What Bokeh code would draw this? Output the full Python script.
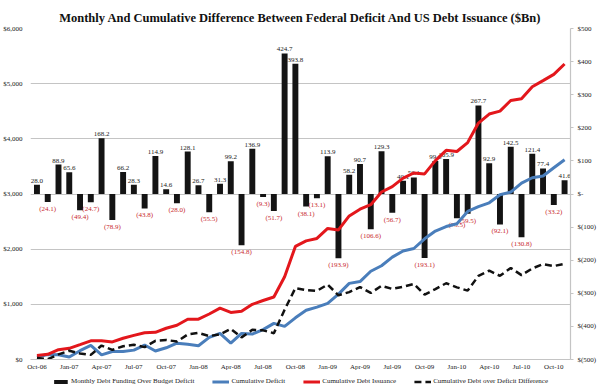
from bokeh.plotting import figure
from bokeh.layouts import column
from bokeh.models import (Range1d, LinearAxis, FixedTicker, ColumnDataSource,
                          Legend, LegendItem)
from bokeh.core.properties import value
from bokeh.embed import file_html
from bokeh.resources import INLINE

months = ["Oct-06", "Nov-06", "Dec-06", "Jan-07", "Feb-07", "Mar-07", "Apr-07", "May-07",
          "Jun-07", "Jul-07", "Aug-07", "Sep-07", "Oct-07", "Nov-07", "Dec-07", "Jan-08",
          "Feb-08", "Mar-08", "Apr-08", "May-08", "Jun-08", "Jul-08", "Aug-08", "Sep-08",
          "Oct-08", "Nov-08", "Dec-08", "Jan-09", "Feb-09", "Mar-09", "Apr-09", "May-09",
          "Jun-09", "Jul-09", "Aug-09", "Sep-09", "Oct-09", "Nov-09", "Dec-09", "Jan-10",
          "Feb-10", "Mar-10", "Apr-10", "May-10", "Jun-10", "Jul-10", "Aug-10", "Sep-10",
          "Oct-10", "Nov-10"]

# Monthly debt funding over budget deficit ($Bn, right axis)
funding = [28.0, -24.1, 88.9, 65.6, -49.4, -24.7, 168.2, -78.9, 66.2, 28.3,
           -43.8, 114.9, 14.6, -28.0, 128.1, 26.7, -55.5, 31.3, 99.2, -154.8,
           136.9, -9.3, -51.7, 424.7, 393.8, -38.1, -13.1, 113.9, -193.9, 58.2,
           90.7, -106.6, 129.3, -56.7, 40.1, 50.1, -193.1, 99.6, 105.9, -73.5,
           -59.5, 267.7, 92.9, -92.1, 142.5, -130.8, 121.4, 77.4, -33.2, 41.6]

# Cumulative series ($Bn, left axis)
cum_deficit = [43, 90, 85, 45, 160, 255, 85, 145, 145, 170,
               262, 153, 212, 295, 275, 250, 400, 475, 298, 472,
               462, 542, 655, 600, 755, 893, 950, 1018, 1185, 1380,
               1412, 1600, 1700, 1855, 1968, 2012, 2188, 2329, 2410, 2462,
               2684, 2770, 2840, 2985, 3035, 3198, 3295, 3327, 3475, 3620]

cum_issuance = [71, 94, 178, 203, 269, 339, 338, 319, 385, 438,
                486, 492, 566, 621, 729, 731, 825, 931, 854, 873,
                1000, 1070, 1132, 1501, 2050, 2150, 2194, 2376, 2349, 2602,
                2725, 2806, 3036, 3134, 3287, 3381, 3364, 3605, 3792, 3770,
                3933, 4286, 4449, 4502, 4695, 4727, 4945, 5055, 5169, 5356]

cum_difference = [28, 4, 93, 158, 109, 84, 253, 174, 240, 268,
                  224, 339, 354, 326, 454, 481, 425, 456, 556, 401,
                  538, 528, 477, 901, 1295, 1257, 1244, 1358, 1164, 1222,
                  1313, 1206, 1336, 1279, 1319, 1369, 1176, 1276, 1382, 1308,
                  1249, 1516, 1609, 1517, 1660, 1529, 1650, 1728, 1694, 1736]

x_tick_positions = list(range(0, 50, 3))
left_ticks = [0, 1000, 2000, 3000, 4000, 5000, 6000]
left_tick_labels = ["$0", "$1,000", "$2,000", "$3,000", "$4,000", "$5,000", "$6,000"]
right_ticks = [-500, -400, -300, -200, -100, 0, 100, 200, 300, 400, 500]
right_tick_labels = ["$(500)", "$(400)", "$(300)", "$(200)", "$(100)", "$-",
                     "$100", "$200", "$300", "$400", "$500"]
legend_labels = ["Monthly Debt Funding Over Budget Deficit", "Cumulative Deficit",
                 "Cumulative Debt Issuance", "Cumulative Debt over Deficit Difference"]

TITLE = "Monthly And Cumulative Difference Between Federal Deficit And US Debt Issuance ($Bn)"
SERIF = "Liberation Serif"
GRID = "#c4c4c4"
C_BAR = "#141414"
C_BLUE = "#4a7ebb"
C_RED = "#e3171c"
C_DASH = "#111111"

xs = list(range(len(months)))

p = figure(width=600, height=375, title=TITLE,
           x_range=Range1d(-0.6, 49.55), y_range=Range1d(0, 6000),
           output_backend="svg", toolbar_location=None,
           min_border_left=30, min_border_right=30, min_border_top=28,
           min_border_bottom=16)
p.extra_y_ranges = {"right": Range1d(-500, 500)}
p.outline_line_color = None
p.background_fill_color = "white"
p.border_fill_color = "white"

p.title.text_font = SERIF
p.title.text_font_size = "12.5px"
p.title.text_font_style = "bold"
p.title.align = "center"
p.title.vertical_align = "middle"
p.title.standoff = 6
p.title.text_color = "#111111"

# left axis
ya = p.yaxis[0]
ya.ticker = FixedTicker(ticks=left_ticks)
ya.major_label_overrides = dict(zip(left_ticks, left_tick_labels))
ya.axis_line_color = None
ya.major_tick_line_color = None
ya.major_tick_out = 0
ya.major_tick_in = 0
ya.minor_tick_line_color = None
ya.minor_tick_out = 0
ya.major_label_standoff = 8
ya.major_label_text_font = SERIF
ya.major_label_text_font_size = "7px"
ya.major_label_text_color = "#222222"

p.ygrid.ticker = FixedTicker(ticks=left_ticks)
p.ygrid.grid_line_color = GRID
p.ygrid.grid_line_width = 1.2
p.xgrid.visible = False

# right axis
ra = LinearAxis(y_range_name="right", ticker=FixedTicker(ticks=right_ticks),
                major_label_overrides=dict(zip(right_ticks, right_tick_labels)))
ra.axis_line_color = GRID
ra.axis_line_width = 1.2
ra.major_tick_line_color = GRID
ra.major_tick_out = 3
ra.major_tick_in = 0
ra.minor_tick_line_color = None
ra.minor_tick_out = 0
ra.major_label_standoff = 4
ra.major_label_text_font = SERIF
ra.major_label_text_font_size = "7px"
ra.major_label_text_color = "#222222"
p.add_layout(ra, "right")

# x axis
xa = p.xaxis[0]
xa.ticker = FixedTicker(ticks=x_tick_positions)
xa.major_label_overrides = {i: months[i] for i in x_tick_positions}
xa.axis_line_color = GRID
xa.axis_line_width = 1.2
xa.major_tick_line_color = None
xa.major_tick_out = 0
xa.major_tick_in = 0
xa.minor_tick_line_color = None
xa.minor_tick_out = 0
xa.major_label_standoff = 3
xa.major_label_text_font = SERIF
xa.major_label_text_font_size = "7px"
xa.major_label_text_color = "#222222"

# bars
bar_src = ColumnDataSource(dict(x=xs, v=funding))
p.vbar(x="x", top="v", bottom=0, width=0.55, source=bar_src,
       y_range_name="right", fill_color=C_BAR, line_color=None)

pos = [(x, v) for x, v in zip(xs, funding) if v >= 0]
neg = [(x, v) for x, v in zip(xs, funding) if v < 0]
pos_src = ColumnDataSource(dict(x=[a for a, _ in pos], v=[b for _, b in pos],
                                t=["%.1f" % b for _, b in pos]))
neg_src = ColumnDataSource(dict(x=[a for a, _ in neg], v=[b for _, b in neg],
                                t=["(%.1f)" % (-b) for _, b in neg]))
p.text(x="x", y="v", text="t", source=pos_src, y_range_name="right",
       text_font=value(SERIF), text_font_size="7px", text_align="center",
       text_baseline="bottom", y_offset=-2, text_color="#1a1a1a")
p.text(x="x", y="v", text="t", source=neg_src, y_range_name="right",
       text_font=value(SERIF), text_font_size="7px", text_align="center",
       text_baseline="top", y_offset=3, text_color="#c8282d")

# lines
line_src = ColumnDataSource(dict(x=xs, d=cum_deficit, i=cum_issuance, c=cum_difference))
p.line(x="x", y="d", source=line_src, line_color=C_BLUE, line_width=3)
p.line(x="x", y="i", source=line_src, line_color=C_RED, line_width=3)
p.line(x="x", y="c", source=line_src, line_color=C_DASH, line_width=2.5, line_dash="7 4")

# legend strip below the chart (legend-only renderers, no visible marks)
q = figure(width=600, height=17, x_range=Range1d(0, 1), y_range=Range1d(0, 1),
           x_axis_type=None, y_axis_type=None, output_backend="svg",
           toolbar_location=None, min_border=0)
q.outline_line_color = None
q.background_fill_color = "white"
q.border_fill_color = "white"
nan = float("nan")
g_bar = q.vbar(x=[nan], top=[nan], width=0.5, fill_color=C_BAR, line_color=None)
g_blue = q.line(x=[nan], y=[nan], line_color=C_BLUE, line_width=3)
g_red = q.line(x=[nan], y=[nan], line_color=C_RED, line_width=3)
g_dash = q.line(x=[nan], y=[nan], line_color=C_DASH, line_width=2.5, line_dash="7 4")

legend = Legend(items=[LegendItem(label=lab, renderers=[r]) for lab, r in
                       zip(legend_labels, [g_bar, g_blue, g_red, g_dash])],
                orientation="horizontal", location="top_center")
legend.label_text_font = SERIF
legend.label_text_font_size = "7px"
legend.label_text_color = "#222222"
legend.glyph_width = 17
legend.glyph_height = 5
legend.label_height = 7
legend.label_standoff = 2
legend.spacing = 18
legend.padding = 0
legend.margin = 2
legend.border_line_color = None
legend.background_fill_alpha = 0
q.add_layout(legend)

layout = column(p, q, spacing=0)
open("out.html", "w").write(file_html(layout, INLINE))
